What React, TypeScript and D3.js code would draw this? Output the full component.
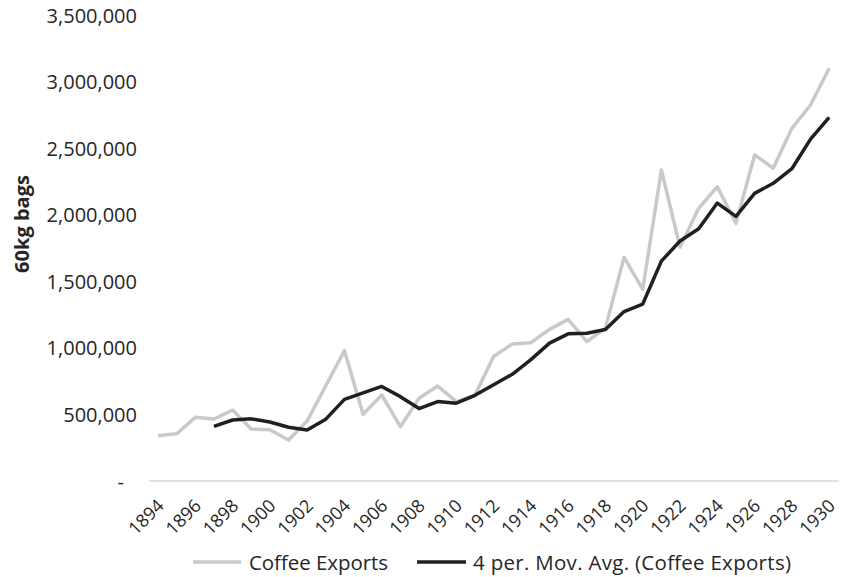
import React from "react";
import * as d3 from "d3";

// Brazilian coffee exports, 60kg bags per year
const years: number[] = [
  1894, 1895, 1896, 1897, 1898, 1899, 1900, 1901, 1902, 1903, 1904, 1905, 1906,
  1907, 1908, 1909, 1910, 1911, 1912, 1913, 1914, 1915, 1916, 1917, 1918, 1919,
  1920, 1921, 1922, 1923, 1924, 1925, 1926, 1927, 1928, 1929, 1930,
];

const coffeeExports: number[] = [
  340000, 355000, 478000, 466000, 533000, 390000, 385000, 308000, 450000,
  715000, 979000, 501000, 646000, 408000, 621000, 713000, 596000, 645000,
  935000, 1029000, 1039000, 1139000, 1214000, 1046000, 1150000, 1680000,
  1440000, 2336000, 1756000, 2048000, 2210000, 1935000, 2449000, 2349000,
  2649000, 2824000, 3100000,
];

const yTicks: number[] = [0, 500000, 1000000, 1500000, 2000000, 2500000, 3000000, 3500000];
const xTickYears: number[] = [
  1894, 1896, 1898, 1900, 1902, 1904, 1906, 1908, 1910, 1912, 1914, 1916, 1918,
  1920, 1922, 1924, 1926, 1928, 1930,
];

const PERIOD = 4;
const seriesName = "Coffee Exports";
const trendName = `${PERIOD} per. Mov. Avg. (Coffee Exports)`;
const yTitle = "60kg bags";

// trailing moving average, as a spreadsheet trendline computes it
const movingAvg: (number | null)[] = coffeeExports.map((_, i) =>
  i < PERIOD - 1 ? null : (d3.mean(coffeeExports.slice(i - PERIOD + 1, i + 1)) as number)
);

const W = 843;
const H = 577;
const plot = { left: 148.7, right: 838.5, top: 15, bottom: 481 };
const FONT = "'Open Sans', sans-serif";

export default function App() {
  const x = d3
    .scaleBand<number>()
    .domain(years)
    .range([plot.left, plot.right]);
  const cx = (yr: number) => (x(yr) as number) + x.bandwidth() / 2;
  const y = d3.scaleLinear().domain([0, 3500000]).range([plot.bottom, plot.top]);
  const fmt = d3.format(",");

  const rawLine = d3
    .line<number>()
    .x((_, i) => cx(years[i]))
    .y((d) => y(d));
  const avgLine = d3
    .line<number | null>()
    .defined((d) => d !== null)
    .x((_, i) => cx(years[i]))
    .y((d) => y(d as number));

  const grey = "#c9c9c9";
  const dark = "#231f20";
  const ink = "#262626";
  const legendY = 562;

  return (
    <svg
      width={W}
      height={H}
      style={{ position: "absolute", left: 0, top: 0, background: "#fff" }}
      fontFamily={FONT}
    >
      <rect width={W} height={H} fill="#fff" />

      {/* value axis labels */}
      {yTicks.map((t) => (
        <text
          key={t}
          x={t === 0 ? 124 : 137}
          y={y(t)}
          textAnchor="end"
          dominantBaseline="central"
          fontSize={20}
          fill={ink}
        >
          {t === 0 ? "-" : fmt(t)}
        </text>
      ))}

      <text
        transform={`translate(21,${224}) rotate(-90)`}
        textAnchor="middle"
        dominantBaseline="central"
        fontSize={20}
        fontWeight="bold"
        fill={ink}
      >
        {yTitle}
      </text>

      {/* category axis */}
      <line
        x1={plot.left}
        x2={plot.right}
        y1={plot.bottom}
        y2={plot.bottom}
        stroke="#d9d9d9"
        strokeWidth={1.5}
      />
      {xTickYears.map((yr) => (
        <text
          key={yr}
          transform={`translate(${cx(yr) + 7},${507}) rotate(-45)`}
          textAnchor="end"
          fontSize={18}
          fill={ink}
        >
          {yr}
        </text>
      ))}

      {/* series */}
      <path
        d={rawLine(coffeeExports) as string}
        fill="none"
        stroke={grey}
        strokeWidth={3.5}
        strokeLinejoin="round"
      />
      <path
        d={avgLine(movingAvg) as string}
        fill="none"
        stroke={dark}
        strokeWidth={3.5}
        strokeLinejoin="round"
      />

      {/* legend */}
      <line x1={193} x2={241} y1={legendY} y2={legendY} stroke={grey} strokeWidth={3.5} />
      <text
        x={249}
        y={legendY}
        dominantBaseline="central"
        fontSize={20.5}
        textLength={139}
        lengthAdjust="spacing"
        fill={ink}
      >
        {seriesName}
      </text>
      <line x1={417} x2={466} y1={legendY} y2={legendY} stroke={dark} strokeWidth={3.5} />
      <text
        x={473}
        y={legendY}
        dominantBaseline="central"
        fontSize={20.5}
        textLength={318}
        lengthAdjust="spacing"
        fill={ink}
      >
        {trendName}
      </text>
    </svg>
  );
}
